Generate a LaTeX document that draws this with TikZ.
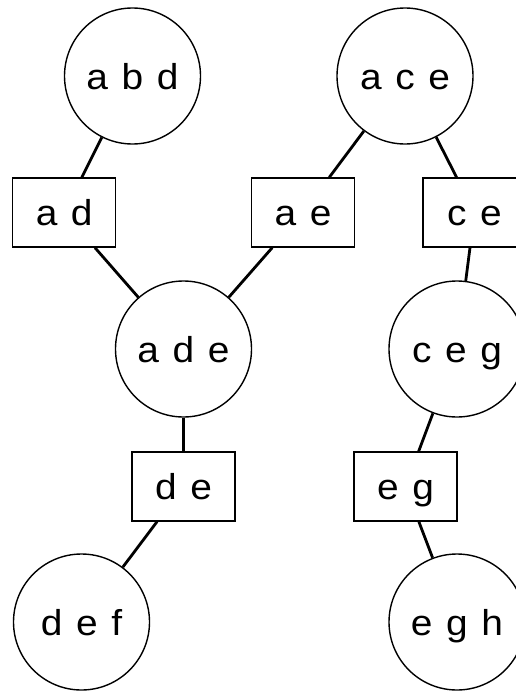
\documentclass[tikz,border=0pt]{standalone}
\usepackage{fontspec}
\setmainfont[FakeStretch=1.08,WordSpace=1.26]{Liberation Sans}
\begin{document}
\begin{tikzpicture}[x=1pt,y=-1pt,
  clique/.style={circle,draw,line width=1.4pt,minimum size=136pt,inner sep=0pt,
    text height=26pt,text depth=0pt,font=\fontsize{36}{42}\selectfont},
  sepbox/.style={rectangle,draw,line width=1.4pt,minimum width=103pt,minimum height=69pt,
    inner sep=0pt,text height=25pt,text depth=0pt,font=\fontsize{36}{42}\selectfont},
  link/.style={line width=2.8pt}]
\useasboundingbox (0,0) rectangle (515,693);
\node[clique] (abd) at (132.5,76) {a b d};
\node[clique] (ace) at (405,76) {a c e};
\node[sepbox] (ad) at (64.2,212.5) {a d};
\node[sepbox] (ae) at (303,212.5) {a e};
\node[sepbox] (ce) at (474.5,212.5) {c e};
\node[clique] (ade) at (183.5,349) {a d e};
\node[clique] (ceg) at (457,349) {c e g};
\node[sepbox] (de) at (183.5,486.5) {d e};
\node[sepbox] (eg) at (405.5,486.5) {e g};
\node[clique] (def) at (81.5,622) {d e f};
\node[clique] (egh) at (457,622) {e g h};
\draw[link] (abd) -- (ad);
\draw[link] (ad) -- (ade);
\draw[link] (ace) -- (ae);
\draw[link] (ace) -- (ce);
\draw[link] (ae) -- (ade);
\draw[link] (ce) -- (ceg);
\draw[link] (ade) -- (de);
\draw[link] (de) -- (def);
\draw[link] (ceg) -- (eg);
\draw[link] (eg) -- (egh);
\end{tikzpicture}
\end{document}
